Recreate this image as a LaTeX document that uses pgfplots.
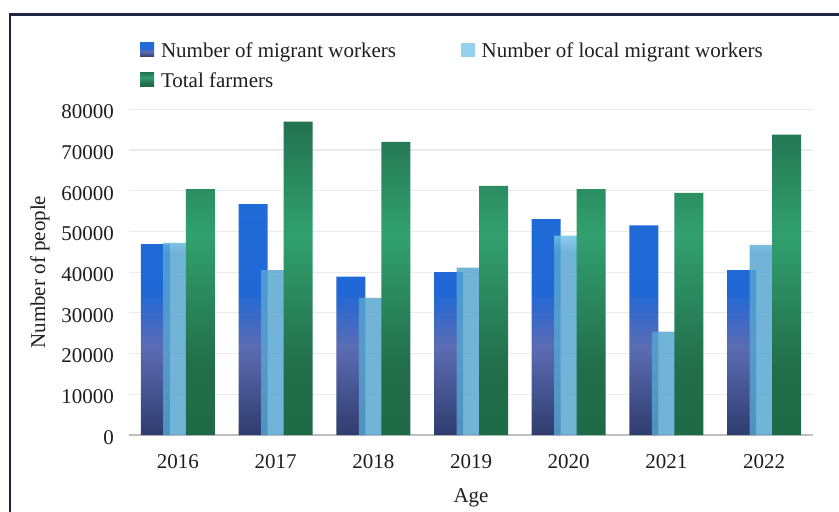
\documentclass[border=0pt]{standalone}
\usepackage{fontspec}
\setmainfont{Liberation Serif}
\usepackage{pgfplots}
\pgfplotsset{compat=1.18}

\definecolor{frameblue}{RGB}{31,38,68}
\definecolor{txt}{RGB}{30,30,30}
\definecolor{gridc}{RGB}{235,235,235}
\definecolor{axisc}{RGB}{191,191,191}
% migrant workers: navy at the foot, blue at the top
\definecolor{mwA}{RGB}{47,60,110}
\definecolor{mwB}{RGB}{91,108,179}
\definecolor{mwC}{RGB}{32,104,214}
\definecolor{mwD}{RGB}{31,107,216}
% local migrant workers
\definecolor{lmA}{RGB}{85,165,208}
\definecolor{lmB}{RGB}{114,195,234}
\definecolor{lmkey}{RGB}{125,200,236}
% total farmers
\definecolor{tfA}{RGB}{31,106,70}
\definecolor{tfB}{RGB}{34,110,75}
\definecolor{tfC}{RGB}{49,160,110}
\definecolor{tfD}{RGB}{35,114,80}

\pgfdeclareverticalshading{mwshade}{100bp}{color(0bp)=(mwA); color(25bp)=(mwA); color(44bp)=(mwB); color(56bp)=(mwC); color(75bp)=(mwD); color(100bp)=(mwD)}
\pgfdeclareverticalshading{lmshade}{100bp}{color(0bp)=(lmA); color(25bp)=(lmA); color(71bp)=(lmA); color(75bp)=(lmB); color(100bp)=(lmB)}
\pgfdeclareverticalshading{tfshade}{100bp}{color(0bp)=(tfA); color(25bp)=(tfA); color(36bp)=(tfB); color(57bp)=(tfC); color(75bp)=(tfD); color(100bp)=(tfD)}

\pgfplotsset{
  sq legend/.style={legend image code/.code={\path[##1,draw=none] (0pt,-2.5pt) rectangle (7pt,4.5pt);}},
  sq legend plain/.style={legend image code/.code={%
    \pgfpathrectangle{\pgfpoint{0pt}{-2.5pt}}{\pgfpoint{7pt}{7pt}}%
    \pgfsetfillcolor{#1}\pgfusepath{fill}}},
}

\begin{document}
\begin{tikzpicture}
\path[use as bounding box] (0pt,0pt) rectangle (419.5pt,-256pt);
\draw[frameblue, line width=1.25pt, line join=miter] (4.9pt,-262pt) -- (4.9pt,-7.35pt) -- (425pt,-7.35pt);

\begin{axis}[
  at={(64.5pt,-217.5pt)}, anchor=south west,
  scale only axis, width=342pt, height=162.85pt,
  xmin=-0.5, xmax=6.5, ymin=0, ymax=80000,
  ybar=-3.25pt, bar width=14.5pt,
  xtick={0,1,2,3,4,5,6},
  xticklabels={2016,2017,2018,2019,2020,2021,2022},
  ytick={0,10000,20000,30000,40000,50000,60000,70000,80000},
  scaled y ticks=false,
  /pgf/number format/1000 sep={},
  /pgf/number format/assume math mode=true,
  axis lines*=left,
  y axis line style={draw=none},
  x axis line style={draw=axisc, line width=1.1pt},
  major tick length=0pt,
  ymajorgrids, grid style={draw=gridc, line width=0.6pt},
  tick label style={font=\fontsize{10.5}{12.6}\selectfont, text=txt},
  xticklabel style={anchor=center, yshift=-13.35pt},
  yticklabel style={anchor=east, xshift=-4pt, yshift=-1.2pt},
  label style={font=\fontsize{10.5}{12.6}\selectfont, text=txt},
  xlabel={Age},
  xlabel style={at={(axis description cs:0.5,-0.193)}, anchor=center},
  ylabel={Number of people},
  ylabel style={at={(axis description cs:-0.130,0.5)}, anchor=center},
  legend style={at={(axis description cs:0.0161,1.2037)}, anchor=north west,
    draw=none, fill=none, inner sep=0pt, outer sep=0pt,
    font=\fontsize{10.5}{12.6}\selectfont, text=txt,
    row sep=5.75pt, nodes={inner sep=0pt},
    /tikz/every odd column/.append style={column sep=3.5pt},
    /tikz/every even column/.append style={column sep=32.35pt}},
  legend columns=2,
  legend cell align=left,
]
\addplot[shading=mwshade, draw=none, sq legend]
  coordinates {(0,46900) (1,56700) (2,38900) (3,40000) (4,53000) (5,51500) (6,40500)};
\addplot[shading=lmshade, draw=none, fill opacity=0.83, sq legend plain=lmkey]
  coordinates {(0,47200) (1,40500) (2,33700) (3,41100) (4,49000) (5,25400) (6,46700)};
\addplot[shading=tfshade, draw=none, sq legend]
  coordinates {(0,60400) (1,77000) (2,72000) (3,61200) (4,60400) (5,59500) (6,73800)};
\legend{Number of migrant workers, Number of local migrant workers, Total farmers}
\end{axis}
\end{tikzpicture}
\end{document}
